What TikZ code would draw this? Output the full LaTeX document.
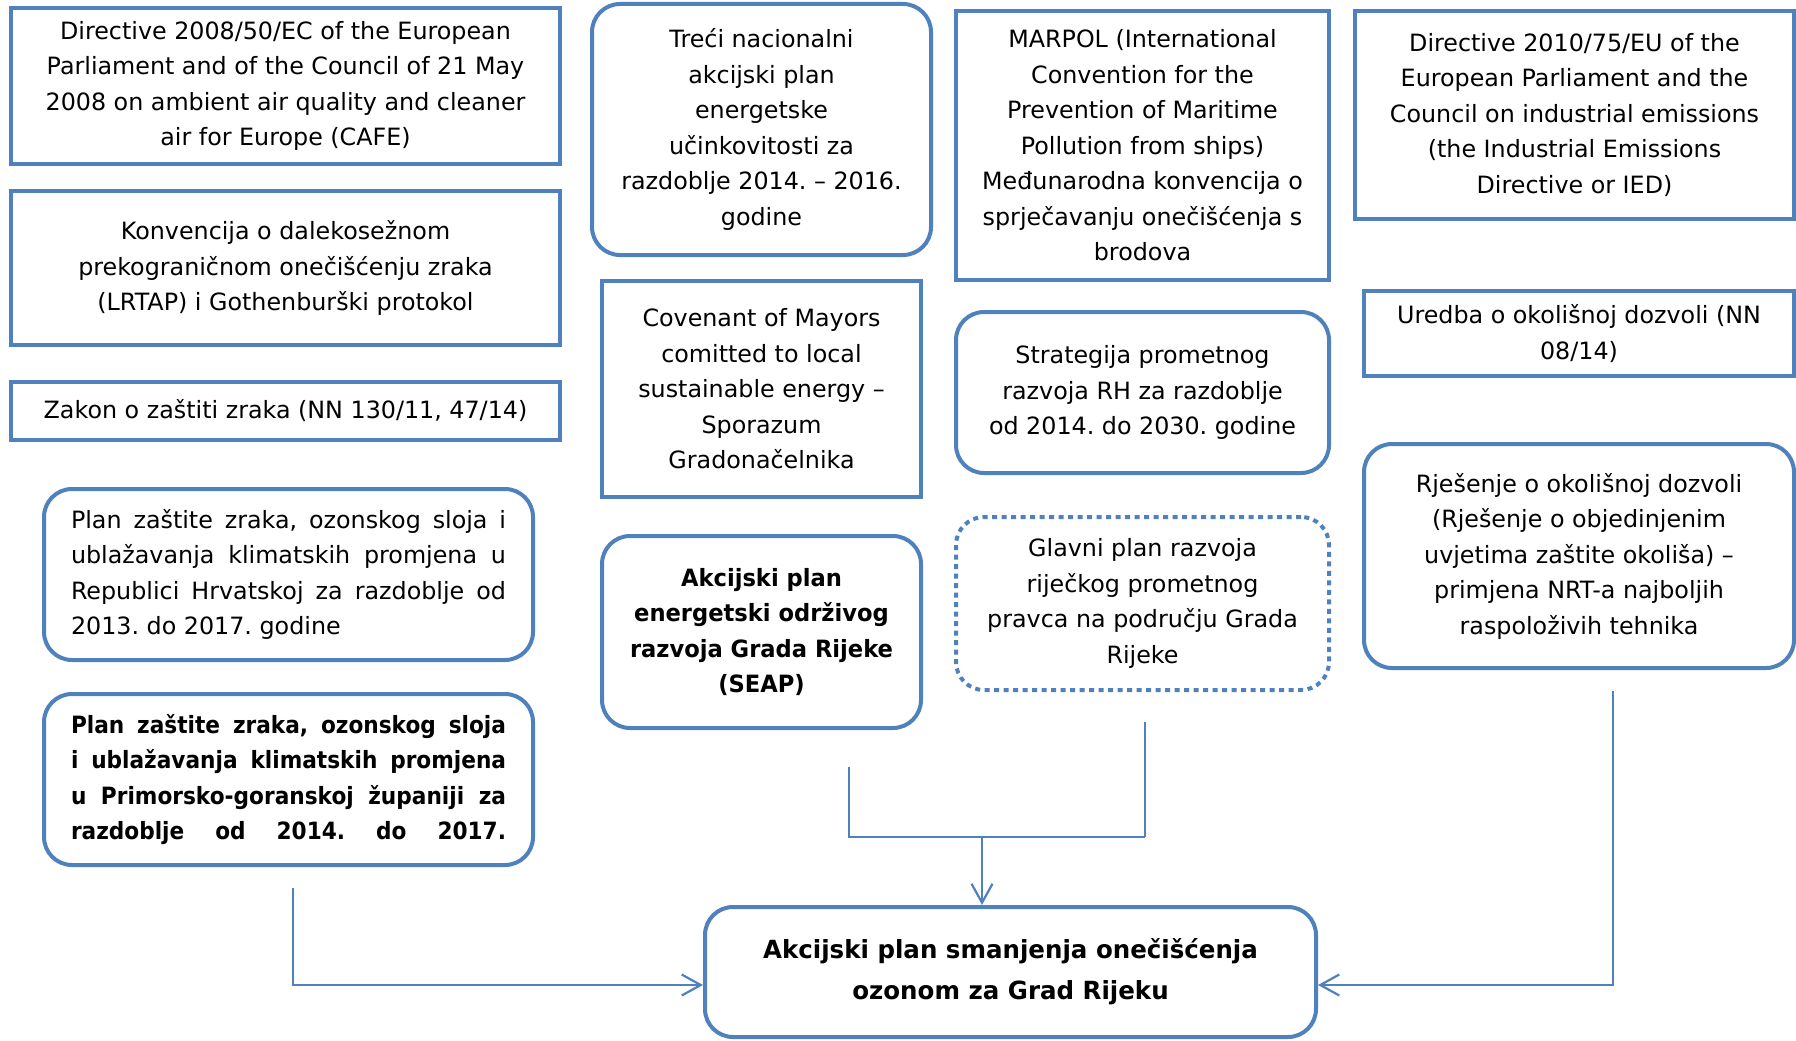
\documentclass[tikz,border=0pt]{standalone}
\usepackage{fontspec}
\setmainfont{DejaVu Sans}
\newfontfamily\boldnarrow[FakeStretch=0.91]{DejaVu Sans}
\newfontfamily\boldslim[FakeStretch=0.95]{DejaVu Sans}
\newfontfamily\boldtitle[FakeStretch=0.98]{DejaVu Sans}
\usetikzlibrary{arrows.meta}
\definecolor{accent}{HTML}{4F81BD}
\frenchspacing
\newcommand\normaltxt{\fontsize{23.8}{35.5}\selectfont}
\newcommand\bigtxt{\boldtitle\fontsize{25}{41}\selectfont\bfseries}
\newcommand\jline[1]{\makebox[435pt][s]{#1}}
\tikzset{
  box/.style={draw=accent, line width=4pt, fill=white, inner sep=0pt,
    align=center, font=\normaltxt},
  rbox/.style={box, rounded corners=28pt},
  dotbox/.style={rbox, dash pattern=on 5pt off 4.5pt},
  conn/.style={draw=accent, line width=2.2pt},
  tip/.style={-{Straight Barb[length=19pt,width=21pt]}}
}
\begin{document}
\begin{tikzpicture}[x=1pt,y=-1pt]
\useasboundingbox (0,0) rectangle (1796,1041);

% left column
\node[box, minimum width=549, minimum height=156] (dir08) at (285.5,86)
  {Directive 2008/50/EC of the European\\Parliament and of the Council of 21 May\\2008 on ambient air quality and cleaner\\air for Europe (CAFE)};
\node[box, minimum width=549, minimum height=154] (lrtap) at (285.5,268)
  {Konvencija o dalekosežnom\\prekograničnom onečišćenju zraka\\(LRTAP) i Gothenburški protokol};
\node[box, minimum width=549, minimum height=58] (zakon) at (285.5,411)
  {Zakon o zaštiti zraka (NN 130/11, 47/14)};
\node[rbox, minimum width=489, minimum height=171] (planrh) at (288.5,574.5)
  {\jline{Plan zaštite zraka, ozonskog sloja i}\\\jline{ublažavanja klimatskih promjena u}\\\jline{Republici Hrvatskoj za razdoblje od}\\\makebox[435pt][l]{2013. do 2017. godine}};
\node[rbox, minimum width=489, minimum height=171, font=\boldnarrow\normaltxt\bfseries] (planpgz) at (288.5,779.5)
  {\jline{Plan zaštite zraka, ozonskog sloja}\\\jline{i ublažavanja klimatskih promjena}\\\jline{u Primorsko-goranskoj županiji za}\\\jline{razdoblje od 2014. do 2017.}};

% second column
\node[rbox, minimum width=339, minimum height=251] (neeap) at (761.5,129.5)
  {Treći nacionalni\\akcijski plan\\energetske\\učinkovitosti za\\razdoblje 2014. – 2016.\\godine};
\node[box, minimum width=319, minimum height=216] (com) at (761.5,389)
  {Covenant of Mayors\\comitted to local\\sustainable energy –\\Sporazum\\Gradonačelnika};
\node[rbox, minimum width=319, minimum height=192, font=\boldslim\normaltxt\bfseries] (seap) at (761.5,632)
  {Akcijski plan\\energetski održivog\\razvoja Grada Rijeke\\(SEAP)};

% third column
\node[box, minimum width=373, minimum height=269] (marpol) at (1142.5,145.5)
  {MARPOL (International\\Convention for the\\Prevention of Maritime\\Pollution from ships)\\Međunarodna konvencija o\\sprječavanju onečišćenja s\\brodova};
\node[rbox, minimum width=373, minimum height=161] (strat) at (1142.5,392.5)
  {Strategija prometnog\\razvoja RH za razdoblje\\od 2014. do 2030. godine};
\node[dotbox, minimum width=373, minimum height=173] (glavni) at (1142.5,603.5)
  {Glavni plan razvoja\\riječkog prometnog\\pravca na području Grada\\Rijeke};

% right column
\node[box, minimum width=439, minimum height=208] (ied) at (1574.5,115)
  {Directive 2010/75/EU of the\\European Parliament and the\\Council on industrial emissions\\(the Industrial Emissions\\Directive or IED)};
\node[box, minimum width=430, minimum height=85] (uredba) at (1579,333.5)
  {Uredba o okolišnoj dozvoli (NN\\08/14)};
\node[rbox, minimum width=430, minimum height=224] (rjes) at (1579,556)
  {Rješenje o okolišnoj dozvoli\\(Rješenje o objedinjenim\\uvjetima zaštite okoliša) –\\primjena NRT-a najboljih\\raspoloživih tehnika};

% target plan
\node[rbox, minimum width=611, minimum height=130, font=\bigtxt] (final) at (1010.5,972)
  {Akcijski plan smanjenja onečišćenja\\ozonom za Grad Rijeku};

% connector end points
\coordinate (fromL) at (293,888);
\coordinate (bendL) at (293,985);
\coordinate (fromS) at (849,767);
\coordinate (bendS) at (849,837);
\coordinate (fromG) at (1145,722);
\coordinate (bendG) at (1145,837);
\coordinate (drop) at (982,837);
\coordinate (fromR) at (1613,691);
\coordinate (bendR) at (1613,985);

\draw[conn, tip] (fromL) -- (bendL) -- (bendL -| final.west);
\draw[conn] (fromS) -- (bendS) -- (bendG);
\draw[conn] (fromG) -- (bendG);
\draw[conn, tip] (drop) -- (drop |- final.north);
\draw[conn, tip] (fromR) -- (bendR) -- (bendR -| final.east);
\end{tikzpicture}
\end{document}
